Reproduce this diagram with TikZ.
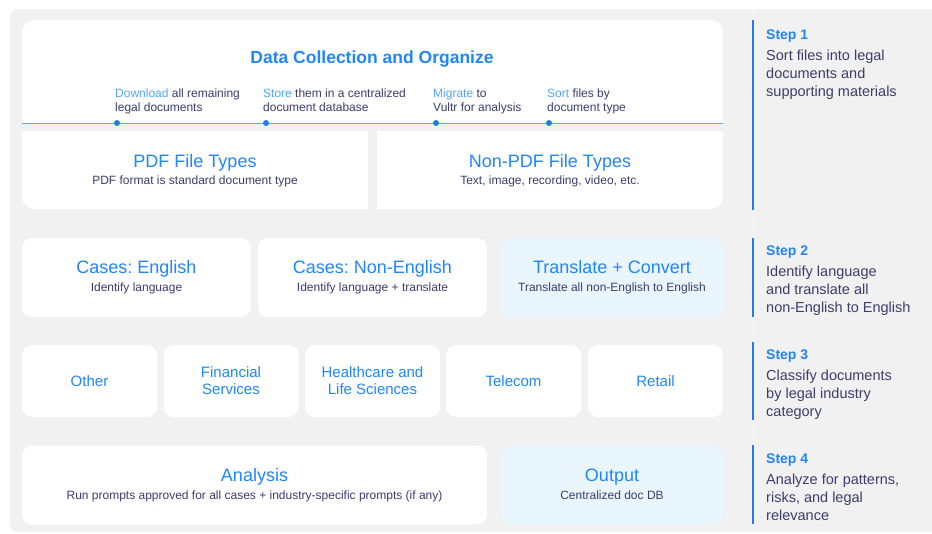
\documentclass[tikz,border=0pt]{standalone}
\usepackage{fontspec}
\setmainfont{Liberation Sans}
\frenchspacing
\definecolor{panel}{HTML}{F1F1F1}
\definecolor{divider}{HTML}{F8F8F8}
\definecolor{headblue}{HTML}{1F86FF}
\definecolor{softblue}{HTML}{52A6FF}
\definecolor{ink}{HTML}{3A3D6E}
\definecolor{barblue}{HTML}{1E7DF5}
\definecolor{tint}{HTML}{EAF6FE}
\definecolor{timeline}{HTML}{5AA8FF}
\begin{document}
\begin{tikzpicture}[x=1pt,y=-1pt,
  card/.style={fill=white, rounded corners=10pt, inner sep=0pt, align=center,
    text=ink, font=\fontsize{12}{15}\selectfont},
  tinted/.style={card, fill=tint},
  industry/.style={card, minimum width=135pt, minimum height=72pt,
    font=\fontsize{15}{17}\selectfont, text=headblue},
  steplabel/.style={anchor=base west, inner sep=0pt, text=headblue,
    font=\fontsize{14}{16}\selectfont\bfseries},
  stepdesc/.style={anchor=north west, inner sep=0pt, align=left, text=ink,
    font=\fontsize{14.5}{18}\selectfont},
  stepbar/.style={draw=barblue, line width=1.8pt},
  milestone/.style={anchor=north west, inner sep=0pt, align=left, text=ink,
    font=\fontsize{12}{14}\selectfont},
  dot/.style={circle, fill=barblue, inner sep=0pt, minimum size=6pt}
]
\useasboundingbox (0,0) rectangle (932,533);

% grey backdrop with a faint split before the step column
\fill[panel, rounded corners=8pt] (10,9) rectangle (940,532);
\draw[divider, line width=1pt] (753,9) -- (753,533);

% ---------- Step 1: collection block ----------
\fill[white, rounded corners=12pt] (22,20) rectangle (723,209);
\fill[panel] (22,123.6) rectangle (723,131);
\fill[panel] (368,131) rectangle (377,209);

\node[inner sep=0pt, text=headblue, font=\fontsize{17.5}{20}\selectfont\bfseries]
  (collect) at (372,59.5) {Data Collection and Organize};

\coordinate (tlL) at (22,123);
\coordinate (tlR) at (723,123);
\draw[timeline, line width=0.8pt] (tlL) -- (tlR);

\node[dot] (d1) at (117,123) {};
\node[dot] (d2) at (266,123) {};
\node[dot] (d3) at (436,123) {};
\node[dot] (d4) at (549,123) {};

\node[milestone] (m1) at (115,89) {\textcolor{softblue}{Download} all remaining\\legal documents};
\node[milestone] (m2) at (263,89) {\textcolor{softblue}{Store} them in a centralized\\document database};
\node[milestone] (m3) at (433,89) {\textcolor{softblue}{Migrate} to\\Vultr for analysis};
\node[milestone] (m4) at (547,89) {\textcolor{softblue}{Sort} files by\\document type};

\node[align=center, inner sep=0pt, text=ink, font=\fontsize{12}{15}\selectfont]
  (pdf) at (195,171) {{\fontsize{18}{22}\selectfont\color{headblue}PDF File Types}\\[2pt]PDF format is standard document type};
\node[align=center, inner sep=0pt, text=ink, font=\fontsize{12}{15}\selectfont]
  (nonpdf) at (550,171) {{\fontsize{18}{22}\selectfont\color{headblue}Non-PDF File Types}\\[2pt]Text, image, recording, video, etc.};

% ---------- Step 2: language ----------
\node[card, minimum width=229pt, minimum height=79pt] (eng) at (136.5,277.5)
  {{\fontsize{18}{22}\selectfont\color{headblue}Cases: English}\\[3pt]Identify language};
\node[card, minimum width=229pt, minimum height=79pt] (noneng) at (372.5,277.5)
  {{\fontsize{18}{22}\selectfont\color{headblue}Cases: Non-English}\\[3pt]Identify language + translate};
\node[tinted, minimum width=222pt, minimum height=79pt] (trans) at (612,277.5)
  {{\fontsize{18}{22}\selectfont\color{headblue}Translate + Convert}\\[3pt]Translate all non-English to English};

% ---------- Step 3: industry ----------
\node[industry] (other)  at (89.5,381)  {Other};
\node[industry] (fin)    at (231,381)   {Financial\\Services};
\node[industry] (health) at (372.5,381) {Healthcare and\\Life Sciences};
\node[industry] (tele)   at (513.5,381) {Telecom};
\node[industry] (retail) at (655.5,381) {Retail};

% ---------- Step 4: analysis ----------
\node[card, minimum width=465pt, minimum height=79pt] (analysis) at (254.5,485)
  {{\fontsize{18}{22}\selectfont\color{headblue}Analysis}\\[3pt]Run prompts approved for all cases + industry-specific prompts (if any)};
\node[tinted, minimum width=222pt, minimum height=79pt] (output) at (612,484.5)
  {{\fontsize{18}{22}\selectfont\color{headblue}Output}\\[3pt]Centralized doc DB};

% ---------- step column ----------
\draw[stepbar] (753,20) -- (753,210);
\node[steplabel] (s1) at (766,39) {Step 1};
\node[stepdesc] (s1d) at (766,50) {Sort files into legal\\documents and\\supporting materials};

\draw[stepbar] (753,238) -- (753,317);
\node[steplabel] (s2) at (766,255) {Step 2};
\node[stepdesc] (s2d) at (766,266) {Identify language\\and translate all\\non-English to English};

\draw[stepbar] (753,342) -- (753,420);
\node[steplabel] (s3) at (766,359) {Step 3};
\node[stepdesc] (s3d) at (766,370) {Classify documents\\by legal industry\\category};

\draw[stepbar] (753,445) -- (753,524);
\node[steplabel] (s4) at (766,463) {Step 4};
\node[stepdesc] (s4d) at (766,474) {Analyze for patterns,\\risks, and legal\\relevance};
\end{tikzpicture}
\end{document}
